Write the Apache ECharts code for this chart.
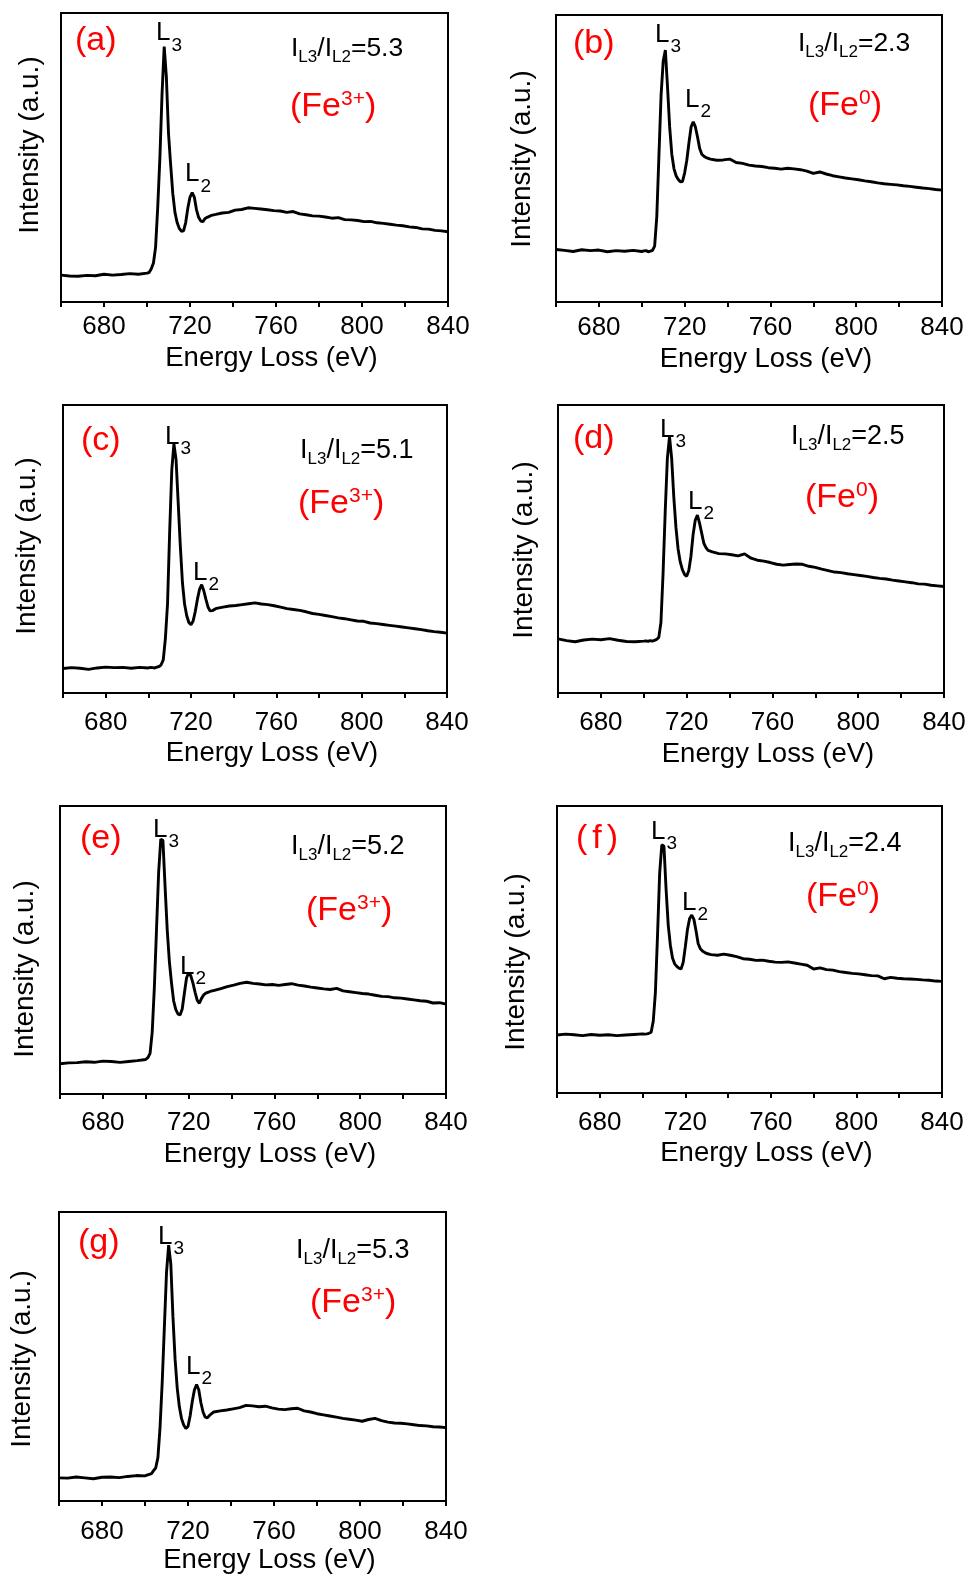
<!DOCTYPE html>
<html>
<head>
<meta charset="utf-8">
<style>
  html, body { margin: 0; padding: 0; background: #fff; }
  #chart { width: 965px; height: 1579px; }
</style>
<script src="https://cdn.jsdelivr.net/npm/echarts@6/dist/echarts.min.js"></script>
</head>
<body>
<div id="chart"></div>
<script>
// ---- data (energy loss in eV, intensity in % of panel height) ----
const energy = [660,664,668,672,676,680,684,688,692,696,700,
  701,702,703,704,705,706,707,708,709,710,711,712,713,714,715,716,717,718,719,720,
  721,722,723,724,725,726,727,728,729,730,
  732,735,738,741,744,747,750,753,756,759,762,765,768,771,774,777,780,783,786,789,
  792,795,798,801,804,807,810,813,816,819,822,825,828,831,834,837,840];

const intensityA = [9.3,9.0,8.9,9.2,9.1,9.6,9.3,9.5,9.8,9.6,10.0,
  10.2,11.5,13.5,19,33,50,72,88.4,78,58.4,47.5,37.5,31,27.5,25.5,24.5,24.6,27.5,32.5,36.3,
  37.8,36.3,32,29.3,28.0,27.8,28.9,29.3,29.6,30.0,
  30.3,30.8,31.0,31.8,32.0,32.6,32.4,32.2,31.9,31.6,31.5,31.0,31.3,30.5,30.2,29.8,29.7,29.4,29.0,29.2,
  28.5,28.4,28.2,27.8,27.9,27.4,27.2,26.9,26.6,26.4,26.0,25.8,25.3,25.2,24.8,24.6,24.3];

const intensityB = [18.3,18.0,17.6,18.2,17.9,18.1,17.5,17.9,17.7,18.0,17.6,
  17.8,17.9,17.5,17.7,18.0,19.5,29.7,51,72,84,87.8,75,61,51.5,46.5,44,42.7,41.9,42.0,45,
  49.4,55.5,61,62.8,61,57.5,53.5,51.5,50.8,50.3,
  49.8,49.4,49.5,49.8,48.6,48.3,47.7,47.4,47.2,46.8,46.6,46.3,46.6,46.4,46.1,45.6,44.8,45.3,44.6,44.0,
  43.6,43.2,42.9,42.6,42.2,41.9,41.5,41.2,41.0,40.8,40.5,40.3,40.0,39.7,39.5,39.2,39.0];

const intensityC = [8.5,8.8,8.6,8.2,8.7,9.0,8.8,8.9,8.6,8.9,8.7,
  8.9,8.8,8.7,9.0,9.2,9.8,11.5,19,31,56,77.5,86.5,81,66,51,38.2,30.8,26.8,24.5,23.7,
  25,28.3,32.5,36,37.6,35.5,32.5,29.8,28.5,28.6,
  29.4,29.8,30.2,30.4,30.7,31.0,31.3,30.9,30.7,30.3,29.8,29.3,29.0,28.7,28.2,27.6,27.3,26.9,26.5,26.1,
  25.8,25.4,25.0,24.9,24.3,24.1,23.8,23.5,23.2,22.9,22.6,22.3,22.0,21.6,21.3,21.1,20.8];

const intensityD = [18.8,18.2,17.8,18.4,18.7,18.5,18.9,18.3,17.9,17.8,18.0,
  18.1,17.9,18.2,18.0,18.3,18.6,19.3,24.5,41.6,63,81.5,89,81.5,68,57.5,50,45.5,42.8,41.2,40.5,
  42.5,47.5,55,60,61.8,59,55.5,52,50.5,49.5,
  49.0,48.4,48.3,48.0,47.6,48.3,46.8,46.1,45.8,45.3,44.7,44.4,44.6,44.8,44.7,44.0,43.6,43.0,42.5,42.0,
  41.8,41.4,41.1,40.8,40.5,40.1,39.8,39.6,39.2,38.9,38.6,38.3,37.9,37.8,37.4,37.2,37.0];

const intensityE = [10.5,10.8,10.9,11.2,11.0,11.4,11.3,11.0,11.3,11.6,12.0,
  12.6,14.1,21.5,37,57,77,88.5,88,72,57,46,38.5,32.3,29.3,27.8,27.4,29.5,35,40.3,42.1,
  41,38.5,35.3,32.5,31.5,33.2,34.4,35.0,35.3,35.6,
  36.0,36.6,37.3,37.8,38.4,38.8,38.4,38.2,37.9,38.0,37.7,38.0,38.3,37.8,37.5,37.1,36.8,36.5,36.3,36.7,
  35.8,35.5,35.2,34.9,34.7,34.3,33.9,33.8,33.4,33.3,33.0,32.7,32.4,32.2,31.6,31.7,31.2];

const intensityF = [20.2,20.5,20.3,20.0,20.4,20.1,20.3,20.0,20.2,20.4,20.6,
  20.5,20.6,20.8,21.2,25,35,55,76.6,86.5,86,71,58.5,51.5,47,45,44.1,43.5,43.2,45.5,51,
  57,60.8,62,60.5,56.5,52,50.3,49.5,49.0,48.6,
  48.2,48.0,48.4,48.0,47.5,46.8,46.6,46.2,46.3,45.9,45.6,45.5,45.7,45.3,44.9,44.5,43.2,43.6,43.0,42.8,
  42.3,42.0,41.7,41.5,41.2,40.9,40.8,39.8,40.3,40.0,39.8,39.7,39.6,39.4,39.3,39.0,38.9];

const intensityG = [8.0,7.9,8.3,8.0,7.7,8.2,8.3,8.1,8.5,8.8,8.7,
  9.0,9.2,9.5,10.5,11.5,15,25.5,41,60,79,88.5,82.1,63.7,49,39,32.5,28.5,26.3,25.1,25.8,
  29.5,34.5,38.5,40.3,38.5,34,30.8,29,28.8,29.6,
  30.8,31.2,31.5,31.9,32.3,33.1,32.9,32.6,32.8,32.2,31.8,31.6,31.9,32.1,31.2,30.8,30.2,29.8,29.4,29.0,
  28.6,28.3,28.0,27.6,28.2,28.6,27.8,27.3,27.0,26.9,26.7,26.4,26.1,26.0,25.7,25.6,25.4];

const tickLabels = [680, 720, 760, 800, 840];
const panelLetters = ['a','b','c','d','e','f','g'];
const ratios = ['5.3','2.3','5.1','2.5','5.2','2.4','5.3'];
const states = ['3+','0','3+','0','3+','0','3+'];

// ---- layout ----
const series = [intensityA, intensityB, intensityC, intensityD, intensityE, intensityF, intensityG];
const layout = [
  {grid:[61,13,387,289],  lm:12,   ng:42,   lab:[75,41],   L3:[156,33],    IL:[291,49],   Fe:[290,106.5], L2:[185,174],   yn:[30,145]},
  {grid:[556,15,386,287], lm:13,   ng:43.5, lab:[573,43.5],L3:[655,34.4],  IL:[798,44],   Fe:[808,105.5], L2:[685,99.4],  yn:[522,159]},
  {grid:[63,405,384,288], lm:17,   ng:46,   lab:[81,441],  L3:[165,436.4], IL:[300,451],  Fe:[298,503.5], L2:[193,572.4], yn:[27,546]},
  {grid:[558,405,386,288],lm:17,   ng:47.5, lab:[573,439], L3:[660,429.4], IL:[791,437],  Fe:[805,497.5], L2:[688,501.4], yn:[524,550]},
  {grid:[60,806,386,288], lm:16,   ng:46.5, lab:[80,839],  L3:[153,829.4], IL:[291,847],  Fe:[306,910.5], L2:[180,966.4], yn:[25,969]},
  {grid:[557,806,385,287],lm:17,   ng:46,   lab:[576,839], L3:[651,831.4], IL:[788,844],  Fe:[806,896.5], L2:[682,902.4], yn:[516,962]},
  {grid:[59,1212,387,289],lm:18,   ng:45.5, lab:[78,1243], L3:[158,1236.4],IL:[296,1251], Fe:[310,1302.5],L2:[186,1366.4],yn:[22.5,1359]}
];

const FONT = '"Liberation Sans", Arial, Helvetica, sans-serif';
const RED = '#ff0000';

const grids = [], xAxes = [], yAxes = [], lines = [], graphics = [];

layout.forEach((p, i) => {
  grids.push({left:p.grid[0], top:p.grid[1], width:p.grid[2], height:p.grid[3],
    show:true, borderColor:'#000', borderWidth:2, backgroundColor:'transparent',
    containLabel:false, outerBoundsMode:'none'});
  xAxes.push({type:'value', gridIndex:i, min:660, max:840, interval:20,
    name:'Energy Loss (eV)', nameLocation:'middle', nameGap:p.ng,
    nameTextStyle:{fontSize:27.5, color:'#000', fontFamily:FONT, padding:[0,0,0,34]},
    axisLine:{show:true, onZero:false, lineStyle:{color:'#000', width:2}},
    axisTick:{show:true, inside:false, length:5, lineStyle:{color:'#000', width:2}},
    axisLabel:{show:true, margin:p.lm, fontSize:26, color:'#000', fontFamily:FONT,
      formatter: v => tickLabels.indexOf(v) >= 0 ? String(v) : ''},
    splitLine:{show:false}});
  yAxes.push({type:'value', gridIndex:i, min:0, max:100,
    axisLine:{show:true, lineStyle:{color:'#000', width:2}},
    axisTick:{show:false}, axisLabel:{show:false}, splitLine:{show:false}});
  const d = series[i];
  lines.push({type:'line', xAxisIndex:i, yAxisIndex:i, showSymbol:false, symbol:'none',
    data: energy.map((e, k) => [e, d[k]]),
    lineStyle:{color:'#000', width:2.9}, clip:true, silent:true});

  // panel letter
  const letter = panelLetters[i];
  if (letter === 'f') {
    graphics.push({type:'text', x:p.lab[0], y:p.lab[1], silent:true,
      style:{text:'{p|(}{f|f}{p|)}', fill:RED, align:'left', verticalAlign:'middle', fontFamily:FONT, fontSize:34,
        rich:{p:{fontSize:34, fontFamily:FONT, fill:RED}, f:{fontSize:34, fontFamily:FONT, fill:RED, padding:[0,5,0,5]}}}});
  } else {
    graphics.push({type:'text', x:p.lab[0], y:p.lab[1], silent:true,
      style:{text:'(' + letter + ')', fill:RED, align:'left', verticalAlign:'middle', fontFamily:FONT, fontSize:34}});
  }
  // L3 and L2 labels
  const Lrich = {m:{fontSize:26, fontFamily:FONT, fill:'#000'}, s:{fontSize:19, fontFamily:FONT, fill:'#000', padding:[25,0,0,1]}};
  graphics.push({type:'text', x:p.L3[0], y:p.L3[1], silent:true,
    style:{text:'{m|L}{s|3}', align:'left', verticalAlign:'middle', fill:'#000', fontFamily:FONT, rich:Lrich}});
  graphics.push({type:'text', x:p.L2[0], y:p.L2[1], silent:true,
    style:{text:'{m|L}{s|2}', align:'left', verticalAlign:'middle', fill:'#000', fontFamily:FONT, rich:Lrich}});
  // ratio
  const big = i >= 2 ? 27 : 26.5;
  graphics.push({type:'text', x:p.IL[0], y:p.IL[1], silent:true,
    style:{text:'{m|I}{s|L3}{m|/I}{s|L2}{m|=' + ratios[i] + '}', align:'left', verticalAlign:'middle', fill:'#000', fontFamily:FONT,
      rich:{m:{fontSize:big, fontFamily:FONT, fill:'#000'}, s:{fontSize:17, fontFamily:FONT, fill:'#000', padding:[17,0,0,0]}}}});
  // oxidation state
  graphics.push({type:'text', x:p.Fe[0], y:p.Fe[1], silent:true,
    style:{text:'{m|(Fe}{u|' + states[i] + '}{m|)}', align:'left', verticalAlign:'middle', fill:RED, fontFamily:FONT,
      rich:{m:{fontSize:34, fontFamily:FONT, fill:RED}, u:{fontSize:21, fontFamily:FONT, fill:RED, padding:[0,0,14,0]}}}});
  // y-axis name
  graphics.push({type:'text', x:p.yn[0], y:p.yn[1], rotation:Math.PI/2, silent:true,
    style:{text:'Intensity (a.u.)', align:'center', verticalAlign:'middle', fill:'#000', fontFamily:FONT, fontSize:28}});
});

const chart = echarts.init(document.getElementById('chart'), null, {renderer:'canvas'});
chart.setOption({
  animation:false,
  backgroundColor:'#fff',
  grid:grids, xAxis:xAxes, yAxis:yAxes, series:lines,
  graphic:{elements:graphics}
});
</script>
</body>
</html>
